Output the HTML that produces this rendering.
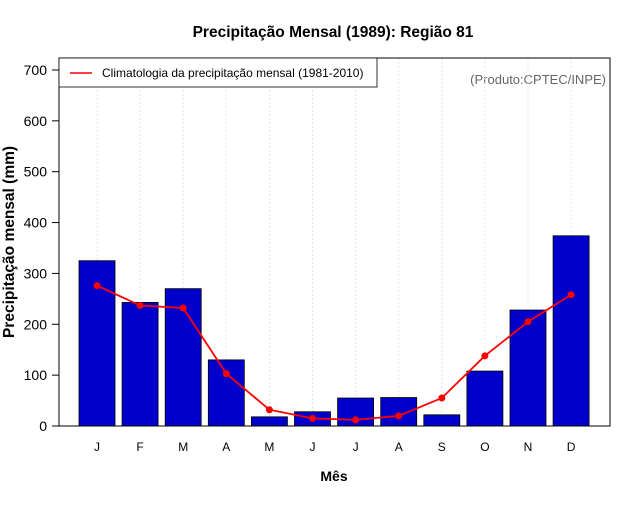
<!DOCTYPE html>
<html><head><meta charset="utf-8"><style>
body{margin:0;background:#fff;}
svg text{font-family:"Liberation Sans",sans-serif;}
</style></head><body>
<svg id="chart" width="640" height="500" xmlns="http://www.w3.org/2000/svg">
<rect width="640" height="500" fill="#fff"/>
<text x="333" y="37" text-anchor="middle" font-size="15.5" font-weight="bold">Precipitação Mensal (1989): Região 81</text>
<text transform="translate(14,242) rotate(-90)" text-anchor="middle" font-size="15.5" font-weight="bold">Precipitação mensal (mm)</text>
<text x="334" y="481" text-anchor="middle" font-size="14" font-weight="bold">Mês</text>
<text x="606" y="84" text-anchor="end" font-size="13" fill="#666">(Produto:CPTEC/INPE)</text>
<g id="grid"></g><g id="bars"></g><g id="line"></g><g id="axes"></g>
<rect x="59" y="58" width="551" height="368" fill="none" stroke="#000" stroke-width="1"/>
<g>
<rect x="59" y="58" width="318" height="29" fill="#fff" stroke="#000" stroke-width="0.8"/>
<line x1="70" y1="73" x2="92" y2="73" stroke="red" stroke-width="1.5"/>
<text x="102" y="77" font-size="12">Climatologia da precipitação mensal (1981-2010)</text>
</g>
</svg>
<script>
const months=["J","F","M","A","M","J","J","A","S","O","N","D"];
const observed=[325,243,270,130,18,28,55,56,22,108,228,374];
const climatology=[276,237,232,103,32,15,12,20,55,138,205,258];
const yTicks=[0,100,200,300,400,500,600,700];
const NS="http://www.w3.org/2000/svg";
const x=i=>97+i*43.1;
const y=v=>426-v*0.5086;
function mk(t,a,p){const e=document.createElementNS(NS,t);for(const k in a)e.setAttribute(k,a[k]);p.appendChild(e);return e;}
const grid=document.getElementById('grid'),bars=document.getElementById('bars'),line=document.getElementById('line'),axes=document.getElementById('axes');
months.forEach((m,i)=>{
 const g=mk('line',{x1:x(i),x2:x(i),y1:58,y2:426,stroke:'#e4e4e4','stroke-dasharray':'2,2'},grid);
 
 
 const b=mk('rect',{x:x(i)-18,y:y(observed[i]),width:36,height:426-y(observed[i]),fill:'#0000cd',stroke:'#000','stroke-width':0.8},bars);
 
 
 const t=mk('text',{x:x(i),y:451,'text-anchor':'middle','font-size':12},axes);
 t.textContent=m;
 
 
});
const pl=mk('polyline',{points:climatology.map((v,i)=>x(i)+','+y(v)).join(' '),fill:'none',stroke:'red','stroke-width':1.8},line);


climatology.forEach((v,i)=>{
 const c=mk('circle',{cx:x(i),cy:y(v),r:3.5,fill:'red'},line);
 
 
});
yTicks.forEach(v=>{
 const l=mk('line',{x1:52,x2:59,y1:y(v),y2:y(v),stroke:'#000'},axes);
 
 
 const t=mk('text',{x:47,y:y(v)+5,'text-anchor':'end','font-size':14},axes);
 t.textContent=v;
 
 
});
</script>
</body></html>
